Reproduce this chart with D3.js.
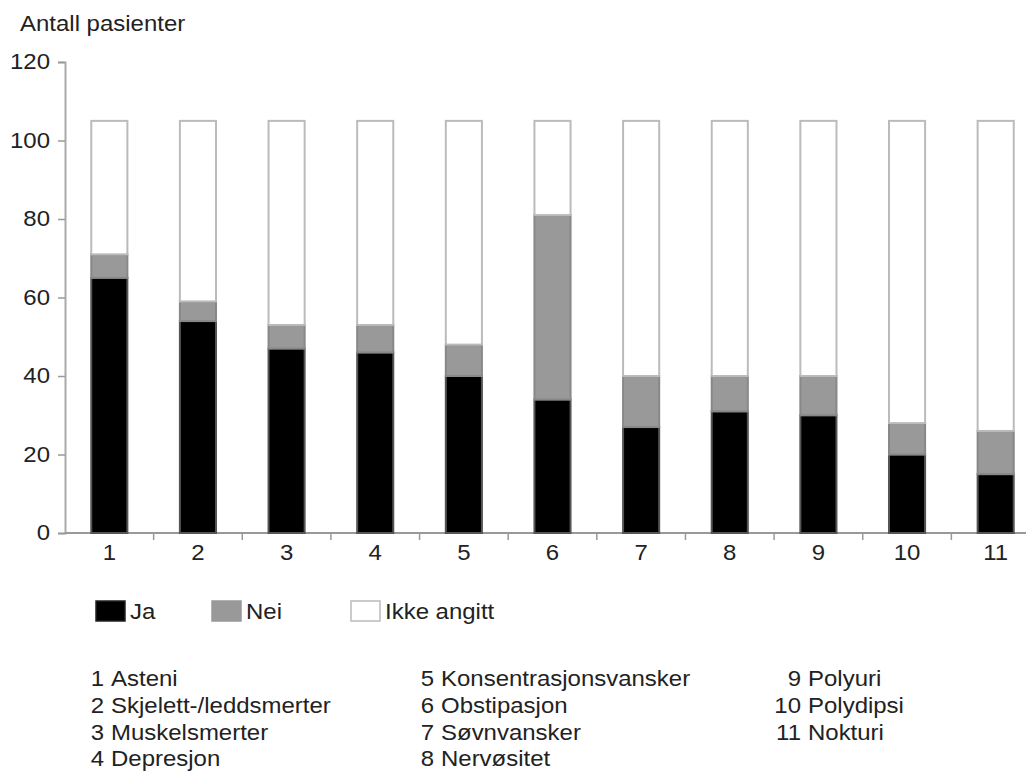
<!DOCTYPE html>
<html><head><meta charset="utf-8">
<script src="https://cdn.jsdelivr.net/npm/d3@7"></script>
<style>body{margin:0;background:#fff}svg{display:block}text{font-family:"Liberation Sans",Arial,sans-serif;fill:#222}</style>
</head><body>
<svg id="c" width="1026" height="771"></svg>
<script>
const categories = ["1","2","3","4","5","6","7","8","9","10","11"];
const ja  = [65, 54, 47, 46, 40, 34, 27, 31, 30, 20, 15];
const nei = [6, 5, 6, 7, 8, 47, 13, 9, 10, 8, 11];
const total = 105;
const yTicks = [0, 20, 40, 60, 80, 100, 120];
const seriesNames = ["Ja", "Nei", "Ikke angitt"];
const listLabels = ["Asteni","Skjelett-/leddsmerter","Muskelsmerter","Depresjon","Konsentrasjonsvansker","Obstipasjon","Søvnvansker","Nervøsitet","Polyuri","Polydipsi","Nokturi"];

const FS = "22px", SX = 1.09;
const svg = d3.select("#c");
const x = d3.scaleBand().domain(categories).range([65, 1040]).paddingInner(0.57).paddingOuter(0.285);
const y = d3.scaleLinear().domain([0, 120]).range([533, 62]);

function label(parent, tx, ty, str, anchor) {
  return parent.append("text")
    .attr("transform", `translate(${tx},${ty}) scale(${SX},1)`)
    .attr("text-anchor", anchor || "start")
    .style("font-size", FS).text(str);
}

const rows = categories.map((c, i) => ({c, ja: ja[i], nei: nei[i], ikke: total - ja[i] - nei[i]}));
const stack = d3.stack().keys(["ja", "nei", "ikke"])(rows);
const fills = {ja: "#000", nei: "#999", ikke: "#fff"};
const strokes = {ja: "#555", nei: "#888", ikke: "#bbb"};

// y axis
const yAxis = d3.axisLeft(y).tickValues(yTicks).tickSize(7).tickFormat("");
const gy = svg.append("g").attr("transform", "translate(65,0)").call(yAxis);
gy.select(".domain").attr("stroke", "#aaa").attr("stroke-width", 2);
gy.selectAll(".tick line").attr("stroke", "#999").attr("stroke-width", 1.5);
yTicks.forEach(t => label(svg, 50, y(t) + 7, String(t), "end"));

// x axis
const gx = svg.append("g").attr("transform", "translate(0,533)");
gx.append("line").attr("x1", 65).attr("x2", 1040).attr("y1", 0).attr("y2", 0).attr("stroke", "#999").attr("stroke-width", 2);
const bounds = categories.slice(1).map(c => x(c) - x.step() * x.paddingInner() / 2);
gx.selectAll("line.tk").data(bounds).enter().append("line").attr("class", "tk")
  .attr("x1", d => d).attr("x2", d => d).attr("y1", 0).attr("y2", 7).attr("stroke", "#999").attr("stroke-width", 1.5);
categories.forEach(c => label(gx, x(c) + x.bandwidth() / 2, 27, c, "middle"));

// bars
svg.append("g").selectAll("g").data(stack).enter().append("g")
  .each(function(s) {
    d3.select(this).selectAll("rect").data(s).enter().append("rect")
      .attr("x", d => x(d.data.c) + 1)
      .attr("width", x.bandwidth() - 2)
      .attr("y", d => y(d[1]))
      .attr("height", d => y(d[0]) - y(d[1]))
      .attr("fill", fills[s.key])
      .attr("stroke", strokes[s.key])
      .attr("stroke-width", 2);
  });

// y title
label(svg, 20, 31, "Antall pasienter");

// legend
const legX = [96, 212, 351];
const legFill = ["#000", "#999", "#fff"];
const legStroke = ["#222", "#999", "#bbb"];
seriesNames.forEach((n, i) => {
  svg.append("rect").attr("x", legX[i]).attr("y", 601).attr("width", 29).attr("height", 20)
    .attr("fill", legFill[i]).attr("stroke", legStroke[i]).attr("stroke-width", 1.5);
  label(svg, legX[i] + 34, 619, n);
});

// category list
const colX = [111, 441, 808];
const rowY = [686, 713, 740, 766];
listLabels.forEach((lab, i) => {
  const col = Math.floor(i / 4), row = i % 4;
  label(svg, colX[col] - 7, rowY[row], categories[i], "end");
  label(svg, colX[col], rowY[row], lab);
});
</script>
</body></html>
